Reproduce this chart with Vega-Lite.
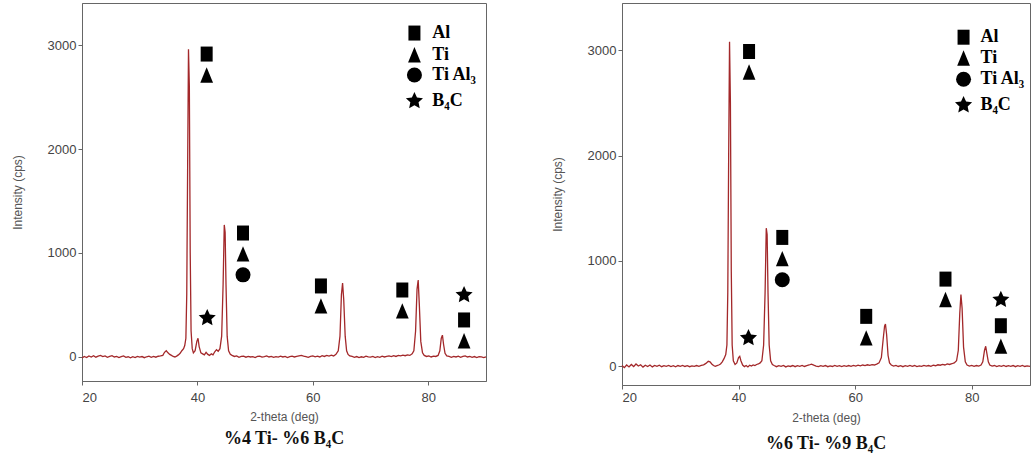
{
  "padding": {"left": 10, "top": 2, "right": 0, "bottom": 0},
  "background": "white",
  "spacing": 60,
  "config": {
    "view": {"stroke": "#666", "strokeWidth": 1},
    "axis": {
      "grid": false,
      "domainColor": "#666",
      "tickColor": "#666",
      "tickSize": 4,
      "labelFont": "Liberation Sans",
      "labelFontSize": 13,
      "labelColor": "#444",
      "titleFont": "Liberation Sans",
      "titleFontSize": 12,
      "titleFontWeight": "normal",
      "titleColor": "#555"
    }
  },
  "hconcat": [
    {
      "width": 404,
      "height": 378,
      "title": {"text": "%4 Ti- %6 B₄C", "orient": "bottom", "font": "Liberation Serif", "fontSize": 18, "fontWeight": "bold", "color": "#111", "offset": 8},
      "layer": [
        {
          "data": {"values": [
      {"t":20.0,"i":-10},{"t":20.4,"i":5},{"t":20.8,"i":-5},{"t":21.2,"i":10},{"t":21.6,"i":0},{"t":22.0,"i":12},{"t":22.4,"i":-2},{"t":22.8,"i":8},{"t":23.2,"i":15},{"t":23.6,"i":3},
      {"t":24.0,"i":10},{"t":24.4,"i":-3},{"t":24.8,"i":6},{"t":25.2,"i":12},{"t":25.6,"i":0},{"t":26.0,"i":5},{"t":26.4,"i":-6},{"t":26.8,"i":4},{"t":27.2,"i":10},{"t":27.6,"i":-4},
      {"t":28.0,"i":2},{"t":28.4,"i":-8},{"t":28.8,"i":3},{"t":29.2,"i":-5},{"t":29.6,"i":6},{"t":30.0,"i":-2},{"t":30.4,"i":4},{"t":30.8,"i":-7},{"t":31.2,"i":2},{"t":31.6,"i":8},
      {"t":32.0,"i":-3},{"t":32.4,"i":5},{"t":32.8,"i":-2},{"t":33.2,"i":7},{"t":33.6,"i":10},{"t":34.0,"i":15},{"t":34.3,"i":45},{"t":34.6,"i":60},{"t":34.9,"i":40},{"t":35.2,"i":25},
      {"t":35.5,"i":15},{"t":35.8,"i":5},{"t":36.1,"i":0},{"t":36.4,"i":8},{"t":36.7,"i":20},{"t":37.0,"i":35},{"t":37.3,"i":60},{"t":37.6,"i":80},{"t":37.8,"i":110},{"t":38.0,"i":180},
      {"t":38.15,"i":600},{"t":38.3,"i":1800},{"t":38.45,"i":2960},{"t":38.6,"i":2600},{"t":38.75,"i":1000},{"t":38.9,"i":250},{"t":39.1,"i":80},{"t":39.3,"i":40},{"t":39.6,"i":60},{"t":39.9,"i":150},
      {"t":40.1,"i":180},{"t":40.3,"i":100},{"t":40.6,"i":40},{"t":40.9,"i":30},{"t":41.2,"i":20},{"t":41.5,"i":45},{"t":41.8,"i":25},{"t":42.1,"i":15},{"t":42.4,"i":30},{"t":42.7,"i":20},
      {"t":43.0,"i":50},{"t":43.3,"i":70},{"t":43.6,"i":55},{"t":43.9,"i":80},{"t":44.2,"i":200},{"t":44.45,"i":700},{"t":44.65,"i":1270},{"t":44.8,"i":1200},{"t":44.95,"i":700},{"t":45.15,"i":200},
      {"t":45.4,"i":60},{"t":45.7,"i":25},{"t":46.0,"i":15},{"t":46.4,"i":5},{"t":46.8,"i":10},{"t":47.2,"i":-3},{"t":47.6,"i":5},{"t":48.0,"i":8},{"t":48.4,"i":-2},{"t":48.8,"i":6},
      {"t":49.2,"i":0},{"t":49.6,"i":4},{"t":50.0,"i":-5},{"t":50.4,"i":5},{"t":50.8,"i":8},{"t":51.2,"i":-2},{"t":51.6,"i":3},{"t":52.0,"i":10},{"t":52.4,"i":0},{"t":52.8,"i":6},
      {"t":53.2,"i":-4},{"t":53.6,"i":4},{"t":54.0,"i":-2},{"t":54.4,"i":7},{"t":54.8,"i":0},{"t":55.2,"i":5},{"t":55.6,"i":-6},{"t":56.0,"i":3},{"t":56.4,"i":8},{"t":56.8,"i":0},
      {"t":57.2,"i":5},{"t":57.6,"i":10},{"t":58.0,"i":15},{"t":58.4,"i":8},{"t":58.8,"i":3},{"t":59.2,"i":-4},{"t":59.6,"i":5},{"t":60.0,"i":10},{"t":60.4,"i":2},{"t":60.8,"i":8},
      {"t":61.2,"i":0},{"t":61.6,"i":12},{"t":62.0,"i":5},{"t":62.4,"i":15},{"t":62.8,"i":8},{"t":63.2,"i":18},{"t":63.6,"i":10},{"t":64.0,"i":25},{"t":64.4,"i":60},{"t":64.7,"i":200},
      {"t":64.95,"i":600},{"t":65.15,"i":710},{"t":65.35,"i":550},{"t":65.6,"i":200},{"t":65.85,"i":60},{"t":66.1,"i":25},{"t":66.4,"i":10},{"t":66.8,"i":5},{"t":67.2,"i":-3},{"t":67.6,"i":4},
      {"t":68.0,"i":-6},{"t":68.4,"i":2},{"t":68.8,"i":-4},{"t":69.2,"i":8},{"t":69.6,"i":0},{"t":70.0,"i":-2},{"t":70.4,"i":6},{"t":70.8,"i":-5},{"t":71.2,"i":3},{"t":71.6,"i":-3},
      {"t":72.0,"i":8},{"t":72.4,"i":0},{"t":72.8,"i":5},{"t":73.2,"i":10},{"t":73.6,"i":3},{"t":74.0,"i":12},{"t":74.4,"i":5},{"t":74.8,"i":15},{"t":75.2,"i":10},{"t":75.6,"i":18},
      {"t":76.0,"i":12},{"t":76.4,"i":20},{"t":76.8,"i":15},{"t":77.2,"i":30},{"t":77.5,"i":60},{"t":77.8,"i":250},{"t":78.05,"i":650},{"t":78.25,"i":740},{"t":78.45,"i":500},{"t":78.7,"i":150},
      {"t":79.0,"i":40},{"t":79.3,"i":15},{"t":79.7,"i":5},{"t":80.1,"i":10},{"t":80.5,"i":0},{"t":80.9,"i":8},{"t":81.3,"i":5},{"t":81.7,"i":15},{"t":82.0,"i":60},{"t":82.25,"i":180},
      {"t":82.45,"i":210},{"t":82.65,"i":120},{"t":82.9,"i":35},{"t":83.2,"i":10},{"t":83.6,"i":5},{"t":84.0,"i":-3},{"t":84.4,"i":6},{"t":84.8,"i":0},{"t":85.2,"i":8},{"t":85.6,"i":-4},
      {"t":86.0,"i":5},{"t":86.4,"i":10},{"t":86.8,"i":0},{"t":87.2,"i":6},{"t":87.6,"i":-3},{"t":88.0,"i":4},{"t":88.4,"i":-5},{"t":88.8,"i":3},{"t":89.2,"i":0},{"t":89.6,"i":-6},{"t":90.0,"i":2}
          ]},
          "mark": {"type": "line", "color": "#a3282a", "strokeWidth": 1.3},
          "encoding": {
            "x": {"field": "t", "type": "quantitative", "scale": {"domain": [20, 90], "nice": false, "zero": false},
                  "axis": {"values": [20, 40, 60, 80], "title": "2-theta (deg)", "labelPadding": 6, "titlePadding": 7}},
            "y": {"field": "i", "type": "quantitative", "scale": {"domain": [-231, 3404], "nice": false, "zero": false},
                  "axis": {"values": [0, 1000, 2000, 3000], "format": "d", "title": "Intensity (cps)", "labelPadding": 2, "titlePadding": 23}}
          }
        },
        {
          "data": {"values": [
      {"t":41.6,"i":2913,"phase":"Al"},{"t":41.6,"i":2710,"phase":"Ti"},
      {"t":41.7,"i":375,"phase":"B4C"},
      {"t":47.9,"i":1192,"phase":"Al"},{"t":47.9,"i":990,"phase":"Ti"},{"t":47.9,"i":790,"phase":"TiAl3"},
      {"t":61.4,"i":683,"phase":"Al"},{"t":61.4,"i":490,"phase":"Ti"},
      {"t":75.5,"i":644,"phase":"Al"},{"t":75.5,"i":442,"phase":"Ti"},
      {"t":86.2,"i":596,"phase":"B4C"},{"t":86.2,"i":356,"phase":"Al"},{"t":86.2,"i":154,"phase":"Ti"},
      {"t":77.6,"i":3115,"phase":"Al"},{"t":77.6,"i":2904,"phase":"Ti"},{"t":77.6,"i":2711,"phase":"TiAl3"},{"t":77.6,"i":2462,"phase":"B4C"}
          ]},
          "mark": {"type": "point", "filled": true, "color": "black", "opacity": 1, "size": 225},
          "encoding": {
            "x": {"field": "t", "type": "quantitative"},
            "y": {"field": "i", "type": "quantitative"},
            "shape": {"field": "phase", "type": "nominal", "legend": null,
                      "scale": {"domain": ["Al", "Ti", "TiAl3", "B4C"],
                                "range": ["M-0.8,-1L0.8,-1L0.8,1L-0.8,1Z", "M0,-1.05L0.85,1L-0.85,1Z", "circle",
                                          "M0,-1.2L0.338,-0.466L1.141,-0.371L0.548,0.178L0.706,0.971L0,0.576L-0.706,0.971L-0.548,0.178L-1.141,-0.371L-0.338,-0.466Z"]}}
          }
        },
        {
          "data": {"values": [
      {"t":80.7,"i":3115,"label":"Al"},{"t":80.7,"i":2904,"label":"Ti"},{"t":80.7,"i":2711,"label":"Ti Al₃"},{"t":80.7,"i":2462,"label":"B₄C"}
          ]},
          "mark": {"type": "text", "align": "left", "baseline": "middle", "font": "Liberation Serif", "fontSize": 18, "fontWeight": "bold", "color": "black"},
          "encoding": {
            "x": {"field": "t", "type": "quantitative"},
            "y": {"field": "i", "type": "quantitative"},
            "text": {"field": "label", "type": "nominal"}
          }
        }
      ]
    },
    {
      "width": 408,
      "height": 382,
      "title": {"text": "%6 Ti- %9 B₄C", "orient": "bottom", "font": "Liberation Serif", "fontSize": 18, "fontWeight": "bold", "color": "#111", "offset": 12},
      "layer": [
        {
          "data": {"values": [
      {"t":20.0,"i":5},{"t":20.4,"i":-15},{"t":20.8,"i":10},{"t":21.2,"i":-8},{"t":21.6,"i":15},{"t":22.0,"i":-5},{"t":22.4,"i":20},{"t":22.8,"i":0},{"t":23.2,"i":12},{"t":23.6,"i":-10},
      {"t":24.0,"i":8},{"t":24.4,"i":-4},{"t":24.8,"i":10},{"t":25.2,"i":-8},{"t":25.6,"i":6},{"t":26.0,"i":-3},{"t":26.4,"i":8},{"t":26.8,"i":-6},{"t":27.2,"i":4},{"t":27.6,"i":-2},
      {"t":28.0,"i":6},{"t":28.4,"i":-5},{"t":28.8,"i":3},{"t":29.2,"i":-7},{"t":29.6,"i":5},{"t":30.0,"i":-2},{"t":30.4,"i":6},{"t":30.8,"i":-4},{"t":31.2,"i":3},{"t":31.6,"i":-6},
      {"t":32.0,"i":2},{"t":32.4,"i":-3},{"t":32.8,"i":5},{"t":33.2,"i":-2},{"t":33.6,"i":6},{"t":34.0,"i":12},{"t":34.4,"i":25},{"t":34.8,"i":45},{"t":35.1,"i":40},{"t":35.4,"i":20},
      {"t":35.7,"i":5},{"t":36.0,"i":-3},{"t":36.3,"i":4},{"t":36.6,"i":10},{"t":36.9,"i":20},{"t":37.2,"i":40},{"t":37.5,"i":70},{"t":37.8,"i":110},{"t":38.0,"i":200},{"t":38.15,"i":700},
      {"t":38.3,"i":2000},{"t":38.45,"i":3080},{"t":38.6,"i":2500},{"t":38.75,"i":900},{"t":38.9,"i":200},{"t":39.1,"i":50},{"t":39.4,"i":15},{"t":39.7,"i":30},{"t":40.0,"i":80},{"t":40.2,"i":92},
      {"t":40.4,"i":50},{"t":40.7,"i":10},{"t":41.0,"i":-5},{"t":41.3,"i":5},{"t":41.6,"i":-8},{"t":41.9,"i":8},{"t":42.2,"i":0},{"t":42.5,"i":10},{"t":42.8,"i":5},{"t":43.1,"i":15},
      {"t":43.4,"i":20},{"t":43.7,"i":30},{"t":44.0,"i":50},{"t":44.3,"i":200},{"t":44.55,"i":700},{"t":44.75,"i":1310},{"t":44.9,"i":1250},{"t":45.05,"i":700},{"t":45.25,"i":200},{"t":45.5,"i":50},
      {"t":45.8,"i":15},{"t":46.1,"i":5},{"t":46.5,"i":-6},{"t":46.9,"i":4},{"t":47.3,"i":-3},{"t":47.7,"i":6},{"t":48.1,"i":-8},{"t":48.5,"i":2},{"t":48.9,"i":-4},{"t":49.3,"i":5},
      {"t":49.7,"i":-6},{"t":50.1,"i":3},{"t":50.5,"i":-2},{"t":50.9,"i":6},{"t":51.3,"i":-4},{"t":51.7,"i":4},{"t":52.1,"i":10},{"t":52.5,"i":18},{"t":52.9,"i":8},{"t":53.3,"i":0},
      {"t":53.7,"i":-5},{"t":54.1,"i":4},{"t":54.5,"i":-3},{"t":54.9,"i":5},{"t":55.3,"i":-6},{"t":55.7,"i":2},{"t":56.1,"i":-4},{"t":56.5,"i":6},{"t":56.9,"i":-2},{"t":57.3,"i":4},
      {"t":57.7,"i":-5},{"t":58.1,"i":3},{"t":58.5,"i":-3},{"t":58.9,"i":5},{"t":59.3,"i":-2},{"t":59.7,"i":6},{"t":60.1,"i":0},{"t":60.5,"i":8},{"t":60.9,"i":2},{"t":61.3,"i":10},
      {"t":61.7,"i":4},{"t":62.1,"i":12},{"t":62.5,"i":6},{"t":62.9,"i":14},{"t":63.3,"i":10},{"t":63.7,"i":18},{"t":64.1,"i":30},{"t":64.5,"i":80},{"t":64.8,"i":250},{"t":65.05,"i":380},
      {"t":65.2,"i":400},{"t":65.4,"i":300},{"t":65.65,"i":100},{"t":65.9,"i":30},{"t":66.2,"i":10},{"t":66.6,"i":0},{"t":67.0,"i":6},{"t":67.4,"i":-4},{"t":67.8,"i":4},{"t":68.2,"i":-6},
      {"t":68.6,"i":3},{"t":69.0,"i":-3},{"t":69.4,"i":6},{"t":69.8,"i":-2},{"t":70.2,"i":5},{"t":70.6,"i":-5},{"t":71.0,"i":2},{"t":71.4,"i":-3},{"t":71.8,"i":6},{"t":72.2,"i":0},
      {"t":72.6,"i":5},{"t":73.0,"i":-2},{"t":73.4,"i":8},{"t":73.8,"i":3},{"t":74.2,"i":12},{"t":74.6,"i":8},{"t":75.0,"i":15},{"t":75.4,"i":10},{"t":75.8,"i":20},{"t":76.2,"i":15},
      {"t":76.6,"i":22},{"t":77.0,"i":30},{"t":77.4,"i":50},{"t":77.7,"i":150},{"t":77.95,"i":500},{"t":78.15,"i":680},{"t":78.35,"i":550},{"t":78.6,"i":180},{"t":78.9,"i":40},{"t":79.2,"i":10},
      {"t":79.6,"i":0},{"t":80.0,"i":6},{"t":80.4,"i":-3},{"t":80.8,"i":5},{"t":81.2,"i":0},{"t":81.6,"i":10},{"t":81.9,"i":40},{"t":82.2,"i":150},{"t":82.4,"i":188},{"t":82.6,"i":120},
      {"t":82.85,"i":40},{"t":83.1,"i":10},{"t":83.5,"i":0},{"t":83.9,"i":5},{"t":84.3,"i":-5},{"t":84.7,"i":4},{"t":85.1,"i":-3},{"t":85.5,"i":6},{"t":85.9,"i":-4},{"t":86.3,"i":3},
      {"t":86.7,"i":-2},{"t":87.1,"i":5},{"t":87.5,"i":-6},{"t":87.9,"i":3},{"t":88.3,"i":-3},{"t":88.7,"i":6},{"t":89.1,"i":-4},{"t":89.5,"i":2},{"t":90.0,"i":-3}
          ]},
          "mark": {"type": "line", "color": "#a3282a", "strokeWidth": 1.3},
          "encoding": {
            "x": {"field": "t", "type": "quantitative", "scale": {"domain": [20, 90], "nice": false, "zero": false},
                  "axis": {"values": [20, 40, 60, 80], "title": "2-theta (deg)", "labelPadding": 2, "titlePadding": 8}},
            "y": {"field": "i", "type": "quantitative", "scale": {"domain": [-180, 3449], "nice": false, "zero": false},
                  "axis": {"values": [0, 1000, 2000, 3000], "format": "d", "title": "Intensity (cps)", "labelPadding": 2, "titlePadding": 23}}
          }
        },
        {
          "data": {"values": [
      {"t":41.8,"i":2988,"phase":"Al"},{"t":41.8,"i":2792,"phase":"Ti"},
      {"t":41.7,"i":266,"phase":"B4C"},
      {"t":47.5,"i":1222,"phase":"Al"},{"t":47.5,"i":1019,"phase":"Ti"},{"t":47.5,"i":820,"phase":"TiAl3"},
      {"t":61.9,"i":472,"phase":"Al"},{"t":61.9,"i":266,"phase":"Ti"},
      {"t":75.5,"i":826,"phase":"Al"},{"t":75.5,"i":630,"phase":"Ti"},
      {"t":85.0,"i":630,"phase":"B4C"},{"t":85.0,"i":383,"phase":"Al"},{"t":85.0,"i":187,"phase":"Ti"},
      {"t":78.6,"i":3124,"phase":"Al"},{"t":78.6,"i":2925,"phase":"Ti"},{"t":78.6,"i":2725,"phase":"TiAl3"},{"t":78.6,"i":2479,"phase":"B4C"}
          ]},
          "mark": {"type": "point", "filled": true, "color": "black", "opacity": 1, "size": 225},
          "encoding": {
            "x": {"field": "t", "type": "quantitative"},
            "y": {"field": "i", "type": "quantitative"},
            "shape": {"field": "phase", "type": "nominal", "legend": null,
                      "scale": {"domain": ["Al", "Ti", "TiAl3", "B4C"],
                                "range": ["M-0.8,-1L0.8,-1L0.8,1L-0.8,1Z", "M0,-1.05L0.85,1L-0.85,1Z", "circle",
                                          "M0,-1.2L0.338,-0.466L1.141,-0.371L0.548,0.178L0.706,0.971L0,0.576L-0.706,0.971L-0.548,0.178L-1.141,-0.371L-0.338,-0.466Z"]}}
          }
        },
        {
          "data": {"values": [
      {"t":81.5,"i":3124,"label":"Al"},{"t":81.5,"i":2925,"label":"Ti"},{"t":81.5,"i":2725,"label":"Ti Al₃"},{"t":81.5,"i":2479,"label":"B₄C"}
          ]},
          "mark": {"type": "text", "align": "left", "baseline": "middle", "font": "Liberation Serif", "fontSize": 18, "fontWeight": "bold", "color": "black"},
          "encoding": {
            "x": {"field": "t", "type": "quantitative"},
            "y": {"field": "i", "type": "quantitative"},
            "text": {"field": "label", "type": "nominal"}
          }
        }
      ]
    }
  ]
}
